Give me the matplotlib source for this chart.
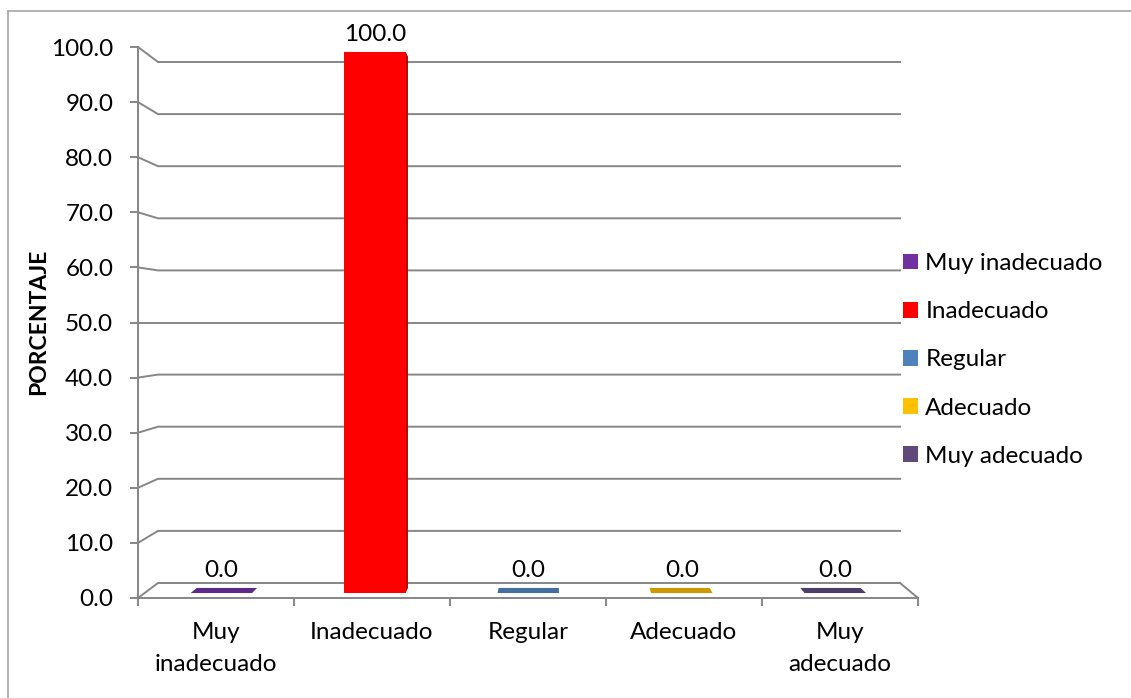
import matplotlib
matplotlib.use("Agg")
import matplotlib.pyplot as plt
from matplotlib.transforms import Affine2D
from matplotlib.patches import Patch
from matplotlib.lines import Line2D

# ---- data ----
categories = ["Muy\ninadecuado", "Inadecuado", "Regular", "Adecuado", "Muy\nadecuado"]
series_names = ["Muy inadecuado", "Inadecuado", "Regular", "Adecuado", "Muy adecuado"]
percentages = [0.0, 100.0, 0.0, 0.0, 0.0]
y_ticks = [0, 10, 20, 30, 40, 50, 60, 70, 80, 90, 100]

# ---- styles ----
bar_colors = ["#7030A0", "#FF0000", "#4F81BD", "#FFC000", "#604A7B"]
side_colors = ["#4E2272", "#B00000", "#38618F", "#B88A00", "#47375C"]
top_colors = ["#5E2A8A", "#D00000", "#44709F", "#CC9A00", "#4E3D68"]
GRID = "#868686"
FS = 17.5

plt.rcParams["font.family"] = ["Lato", "DejaVu Sans"]

W, H = 1131, 698
fig = plt.figure(figsize=(W / 100, H / 100), dpi=100)
fig.patch.set_facecolor("white")

# front plane of the 3-D box
ax = fig.add_axes([138 / W, 100 / H, 780 / W, 551 / H])
ax.set_xlim(0, len(categories))
ax.set_ylim(0, 100)
ax.patch.set_visible(False)

# back wall expressed in front-plane data units (perspective shrink + shift)
BACK_SX, BACK_TX = 148.4 / 156.0, 20.0 / 156.0
BACK_SY, BACK_TY = 521.0 / 551.0, 15.0 / 5.51


def depth_scale(d):
    return 1 - d * (1 - BACK_SX), 1 - d * (1 - BACK_SY)


def plane(d):
    sx, sy = depth_scale(d)
    return Affine2D().scale(sx, sy).translate(d * BACK_TX, d * BACK_TY) + ax.transData


def project(x, y, d):
    sx, sy = depth_scale(d)
    return x * sx + d * BACK_TX, y * sy + d * BACK_TY


n = len(categories)

# side wall links and back-wall gridlines
for t in y_ticks:
    p0 = project(0, t, 0)
    p1 = project(0, t, 1)
    p2 = project(n, t, 1)
    ax.plot([p0[0], p1[0], p2[0]], [p0[1], p1[1], p2[1]], color=GRID, lw=1.4,
            solid_joinstyle="miter", clip_on=False, zorder=0.5)
# right edge of the floor
f0, f1 = project(n, 0, 0), project(n, 0, 1)
ax.plot([f0[0], f1[0]], [f0[1], f1[1]], color=GRID, lw=1.4, clip_on=False, zorder=0.5)

# spines and ticks of the front plane
for s in ("top", "right"):
    ax.spines[s].set_visible(False)
for s in ("left", "bottom"):
    ax.spines[s].set_color(GRID)
    ax.spines[s].set_linewidth(1.4)

ax.set_yticks(y_ticks, labels=[f"{t:.1f}" for t in y_ticks])
ax.set_xticks(range(n + 1), labels=[""] * (n + 1))
ax.set_xticks([i + 0.5 for i in range(n)], labels=categories, minor=True)
ax.tick_params(axis="both", which="major", direction="out", length=5.8, width=1.4,
               color=GRID)
ax.tick_params(axis="y", which="major", pad=12, labelsize=FS)
ax.tick_params(axis="x", which="minor", length=0, pad=17.5, labelsize=FS)
for lab in ax.get_xticklabels(minor=True):
    lab.set_linespacing(1.62)

# bars
D0, D1, BAR_W = 0.33, 0.67, 0.4
centers = [i + 0.5 for i in range(n)]
for xc, v, tc, sc in zip(centers, percentages, top_colors, side_colors):
    xl, xr = xc - BAR_W / 2, xc + BAR_W / 2
    top = [project(xl, v, D0), project(xr, v, D0), project(xr, v, D1), project(xl, v, D1)]
    ax.fill([p[0] for p in top], [p[1] for p in top], color=tc, lw=0, zorder=1)
    if v > 0:
        side = [project(xr, 0, D0), project(xr, v, D0), project(xr, v, D1), project(xr, 0, D1)]
        ax.fill([p[0] for p in side], [p[1] for p in side], color=sc, lw=0, zorder=1)
ax.bar(centers, percentages, width=BAR_W, color=bar_colors, lw=0,
       transform=plane(D0), zorder=2)

# value labels
for xc, v in zip(centers, percentages):
    fx, fy = project(xc, v, D0)
    bx, by = project(xc, v, D1)
    ax.annotate(f"{v:.1f}", xy=(fx, max(fy, by)), xytext=(0, 11),
                textcoords="offset pixels", ha="center", va="baseline",
                fontsize=FS, annotation_clip=False, zorder=3)

# axis title
fig.text(39 / W, 1 - 322 / H, "PORCENTAJE", rotation=90, ha="center", va="center",
         fontsize=16.5, fontweight="bold")

# legend
handles = [Patch(facecolor=c, edgecolor="none") for c in bar_colors]
fig.legend(handles, series_names, loc="upper left",
           bbox_to_anchor=(903 / W, 1 - 253 / H), bbox_transform=fig.transFigure,
           frameon=False, fontsize=FS, handlelength=0.62, handleheight=0.62,
           handletextpad=0.3, labelspacing=1.12, borderpad=0, borderaxespad=0)

# chart area border
fig.add_artist(Line2D([7.5 / W, 7.5 / W], [0, 1 - 11 / H], transform=fig.transFigure,
                      color="#A6A6A6", lw=1.2))
fig.add_artist(Line2D([7.5 / W, 1], [1 - 11 / H, 1 - 11 / H], transform=fig.transFigure,
                      color="#A6A6A6", lw=1.2))

fig.savefig("out.png", dpi=100)
